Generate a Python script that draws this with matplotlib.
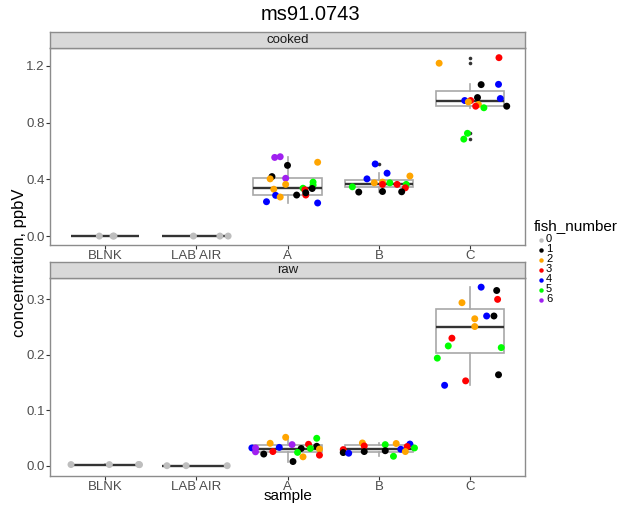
#! /usr/bin/env python3
# ms91.0743 concentration by sample, cooked vs raw
import matplotlib
matplotlib.use("Agg")
import matplotlib.pyplot as plt
from matplotlib.lines import Line2D
import numpy as np

plt.rcParams['font.family'] = ['Liberation Sans', 'DejaVu Sans']

samples = ["BLNK", "LAB AIR", "A", "B", "C"]
fish_levels = ["0", "1", "2", "3", "4", "5", "6"]
fish_colors = ["#BEBEBE", "#000000", "#FFA500", "#FF0000", "#0000FF", "#00FF00", "#A020F0"]

# cooked facet
cooked_values = {
    "BLNK": [0.0, 0.0, 0.0],
    "LAB AIR": [0.0, 0.0, 0.0],
    "A": [0.554, 0.559, 0.498, 0.520, 0.419, 0.403, 0.407, 0.364, 0.380, 0.359, 0.335,
          0.330, 0.337, 0.326, 0.289, 0.305, 0.289, 0.287, 0.275, 0.242, 0.233],
    "B": [0.508, 0.443, 0.423, 0.403, 0.375, 0.380, 0.375, 0.364, 0.364, 0.364, 0.347,
          0.340, 0.310, 0.314, 0.312],
    "C": [1.218, 1.257, 1.067, 1.069, 0.976, 0.955, 0.955, 0.945, 0.927, 0.915, 0.904,
          0.969, 0.915, 0.724, 0.683],
}
cooked_fish = {
    "BLNK": [0, 0, 0],
    "LAB AIR": [0, 0, 0],
    "A": [6, 6, 1, 2, 1, 2, 6, 2, 5, 5, 1, 2, 5, 3, 3, 1, 1, 4, 2, 4, 4],
    "B": [4, 4, 2, 4, 2, 2, 5, 3, 3, 5, 5, 3, 1, 1, 1],
    "C": [2, 3, 1, 4, 1, 4, 3, 2, 2, 3, 5, 4, 1, 5, 5],
}
cooked_jitter = {
    "BLNK": [-0.06, 0.10, 0.09],
    "LAB AIR": [-0.03, 0.26, 0.35],
    "A": [-0.14, -0.08, 0.0, 0.33, -0.17, -0.19, -0.02, -0.02, 0.28, 0.28, 0.27,
          -0.15, 0.17, 0.19, 0.20, 0.20, 0.10, -0.13, -0.08, -0.23, 0.33],
    "B": [-0.04, 0.09, 0.34, -0.13, -0.05, 0.04, 0.12, 0.04, 0.20, 0.30, -0.29,
          0.29, -0.22, 0.04, 0.25],
    "C": [-0.34, 0.315, 0.12, 0.31, 0.08, -0.06, 0.005, -0.02, 0.09, 0.06, 0.15,
          0.33, 0.40, -0.03, -0.07],
}

# raw facet
raw_values = {
    "BLNK": [0.002, 0.002, 0.0022, 0.0018],
    "LAB AIR": [0.0, 0.0, 0.0],
    "A": [0.0512, 0.0494, 0.0404, 0.038, 0.0386, 0.035, 0.032, 0.032, 0.033, 0.031,
          0.031, 0.030, 0.025, 0.0255, 0.021, 0.024, 0.019, 0.016, 0.0075],
    "B": [0.041, 0.0356, 0.040, 0.038, 0.039, 0.0345, 0.032, 0.0296, 0.029, 0.0255,
          0.027, 0.0237, 0.0225, 0.0255, 0.017],
    "C": [0.322, 0.316, 0.300, 0.294, 0.270, 0.270, 0.265, 0.251, 0.230, 0.216,
          0.213, 0.194, 0.164, 0.153, 0.145],
}
raw_fish = {
    "BLNK": [0, 0, 0, 0],
    "LAB AIR": [0, 0, 0],
    "A": [2, 5, 2, 6, 3, 1, 4, 6, 4, 1, 5, 2, 6, 3, 1, 5, 3, 2, 1],
    "B": [2, 3, 2, 5, 4, 3, 5, 4, 3, 2, 1, 1, 4, 1, 5],
    "C": [4, 1, 3, 2, 4, 1, 2, 2, 3, 5, 5, 5, 1, 3, 4],
}
raw_jitter = {
    "BLNK": [-0.37, 0.05, 0.37, 0.38],
    "LAB AIR": [-0.32, -0.11, 0.34],
    "A": [-0.02, 0.32, -0.19, 0.05, 0.23, 0.32, -0.39, -0.35, -0.09, 0.15, 0.25,
          0.35, -0.35, -0.16, -0.26, 0.11, 0.35, 0.17, 0.06],
    "B": [-0.18, -0.16, 0.19, 0.07, 0.34, 0.31, 0.39, 0.24, -0.39, 0.29, 0.07,
          -0.39, -0.33, -0.16, 0.16],
    "C": [0.12, 0.29, 0.30, -0.09, 0.18, 0.26, 0.05, 0.05, -0.20, -0.24, 0.34,
          -0.36, 0.31, -0.05, -0.28],
}

W, H = 627, 505
fig = plt.figure(figsize=(W / 100, H / 100), dpi=100)


def px_rect(x0, y0, x1, y1):
    # pixel box (top-left origin) -> figure fraction rect
    return [x0 / W, (H - y1) / H, (x1 - x0) / W, (y1 - y0) / H]


def draw_panel(rect, strip_rect, label, values, fish, jitter, ylim, yticks):
    ax = fig.add_axes(rect)
    pos = np.arange(1, len(samples) + 1)
    data = [values[s] for s in samples]
    ax.boxplot(data, positions=pos, widths=0.75, patch_artist=True, showcaps=False,
               boxprops=dict(facecolor="white", edgecolor="#A8A8A8", linewidth=1.2),
               whiskerprops=dict(color="#A8A8A8", linewidth=1.2),
               medianprops=dict(color="#333333", linewidth=1.7),
               flierprops=dict(marker="o", markersize=2.6, markerfacecolor="#333333",
                               markeredgecolor="none"),
               zorder=2)
    for i, s in enumerate(samples):
        xs = pos[i] + np.array(jitter[s])
        cols = [fish_colors[f] for f in fish[s]]
        ax.scatter(xs, values[s], c=cols, s=25, edgecolors="none", zorder=3)
    ax.set_xlim(0.4, 5.6)
    ax.set_ylim(*ylim)
    ax.set_xticks(pos)
    ax.set_xticklabels(samples)
    ax.set_yticks(yticks)
    ax.set_yticklabels([f"{t:.1f}" for t in yticks])
    ax.tick_params(axis="both", length=2.75, width=0.8, color="#333333",
                   labelcolor="#4D4D4D", labelsize=9.5, pad=1.0)
    for sp in ax.spines.values():
        sp.set_color("#8C8C8C")
        sp.set_linewidth(1.0)

    sax = fig.add_axes(strip_rect)
    sax.set_facecolor("#D9D9D9")
    sax.set_xticks([])
    sax.set_yticks([])
    for sp in sax.spines.values():
        sp.set_color("#8C8C8C")
        sp.set_linewidth(1.0)
    sax.text(0.5, 0.5, label, ha="center", va="center", fontsize=9.5,
             color="#1A1A1A", transform=sax.transAxes)
    return ax


draw_panel(px_rect(50, 48.3, 525, 245), px_rect(50, 32.3, 525, 48.3), "cooked",
           cooked_values, cooked_fish, cooked_jitter, (-0.063, 1.323), [0.0, 0.4, 0.8, 1.2])
draw_panel(px_rect(50, 278.3, 525, 476), px_rect(50, 262.3, 525, 278.3), "raw",
           raw_values, raw_fish, raw_jitter, (-0.0186, 0.338), [0.0, 0.1, 0.2, 0.3])

fig.text(311 / W, 1 - 15 / H, "ms91.0743", ha="center", va="center", fontsize=14.5)
fig.text(287.5 / W, 1 - 496 / H, "sample", ha="center", va="center", fontsize=11)
fig.text(20 / W, 1 - 263 / H, "concentration, ppbV", ha="center", va="center",
         rotation=90, fontsize=12)

# legend
fig.text(534 / W, 1 - 226 / H, "fish_number", ha="left", va="center", fontsize=11)
for i, (lab, col) in enumerate(zip(fish_levels, fish_colors)):
    yy = 1 - (239.5 + i * 10) / H
    fig.add_artist(Line2D([540.5 / W], [yy], marker="o", markersize=3.2, color=col,
                          markeredgecolor="none", linestyle="none",
                          transform=fig.transFigure))
    fig.text(546 / W, yy, lab, ha="left", va="center", fontsize=8)

fig.savefig("out.png", dpi=100)
